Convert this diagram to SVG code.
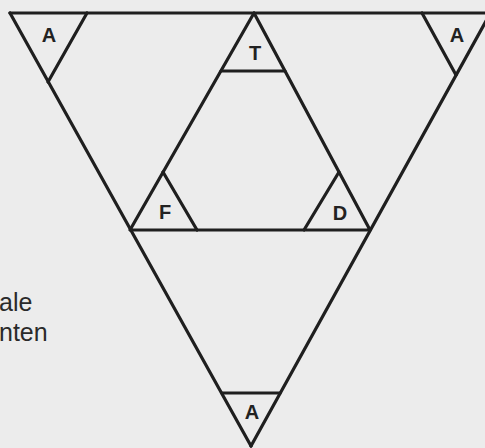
<svg xmlns="http://www.w3.org/2000/svg" width="485" height="448" viewBox="0 0 485 448">
<style>
.ln{stroke:#1f1f1f;stroke-width:3.2;fill:none;stroke-linecap:round;stroke-linejoin:round}
.lbl{font-family:"Liberation Sans",Arial,sans-serif;font-size:20px;font-weight:bold;fill:#222;text-anchor:middle}
.cap{font-family:"Liberation Sans",Arial,sans-serif;font-size:25px;fill:#2a2a2a}
</style>
<rect width="485" height="448" fill="#ececec"/>
<g id="connectors">
<line class="ln" x1="10" y1="13" x2="490" y2="13"/>
<line class="ln" x1="10" y1="13" x2="251" y2="446"/>
<line class="ln" x1="491" y1="12" x2="251" y2="446"/>
<polyline class="ln" points="254,13 130,230 370,230 254,13"/>
</g>
<g id="node-A-topleft">
<line class="ln" x1="87" y1="13" x2="48" y2="82"/>
<text class="lbl" x="49" y="42">A</text>
</g>
<g id="node-A-topright">
<line class="ln" x1="422" y1="13" x2="456" y2="75"/>
<text class="lbl" x="457" y="42">A</text>
</g>
<g id="node-T">
<line class="ln" x1="221" y1="71" x2="285" y2="71"/>
<text class="lbl" x="255" y="60">T</text>
</g>
<g id="node-F">
<line class="ln" x1="163" y1="172" x2="197" y2="230"/>
<text class="lbl" x="165" y="219">F</text>
</g>
<g id="node-D">
<line class="ln" x1="339" y1="172" x2="304" y2="230"/>
<text class="lbl" x="340" y="220">D</text>
</g>
<g id="node-A-bottom">
<line class="ln" x1="222" y1="393" x2="280" y2="393"/>
<text class="lbl" x="252" y="419">A</text>
</g>
<g id="caption">
<text class="cap" x="-1" y="311">ale</text>
<text class="cap" x="-1" y="341">nten</text>
</g>
</svg>
